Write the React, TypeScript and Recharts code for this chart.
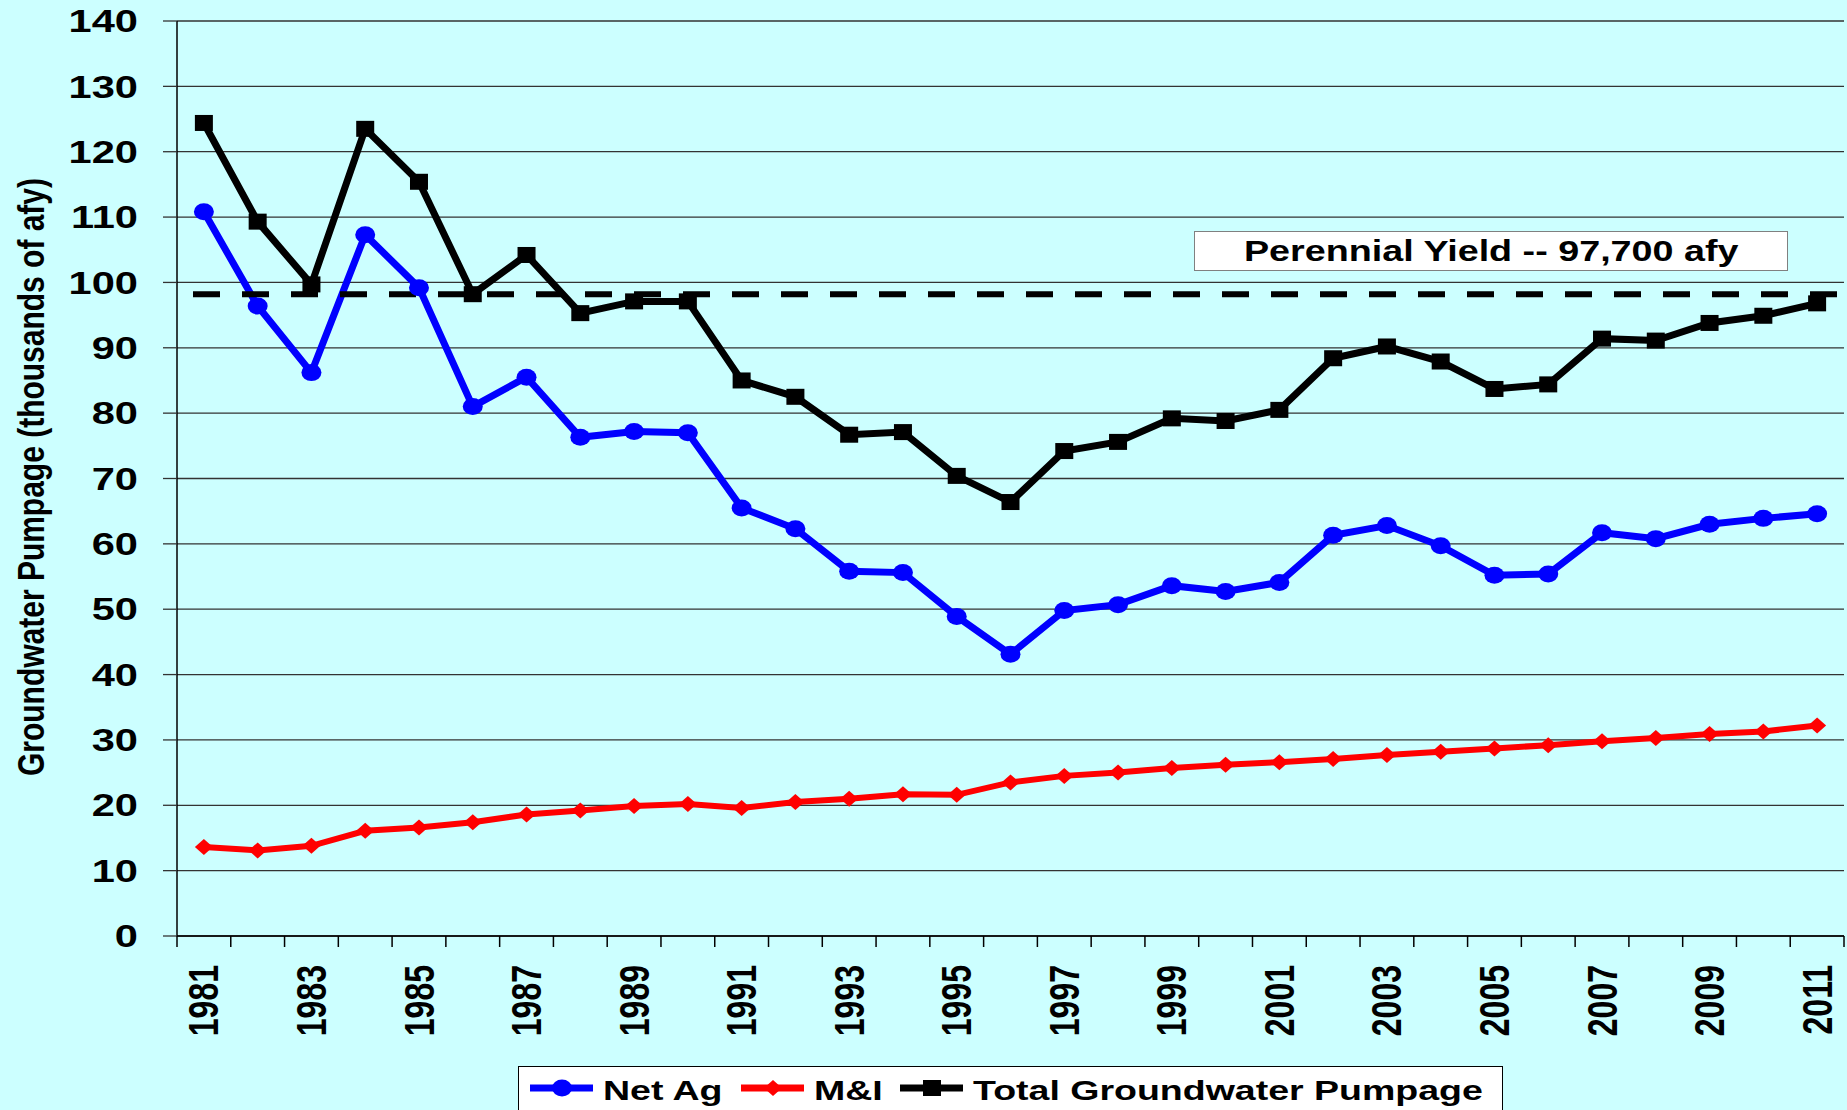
import React from 'react';
import { CartesianGrid, Legend, Line, LineChart, ReferenceLine, XAxis, YAxis } from 'recharts';

const YEARS = [
  '1981', '1982', '1983', '1984', '1985', '1986', '1987', '1988', '1989', '1990',
  '1991', '1992', '1993', '1994', '1995', '1996', '1997', '1998', '1999', '2000',
  '2001', '2002', '2003', '2004', '2005', '2006', '2007', '2008', '2009', '2010', '2011',
];

const NET_AG = [
  110.8, 96.4, 86.2, 107.3, 99.2, 81.0, 85.5, 76.3, 77.2, 77.0,
  65.5, 62.3, 55.8, 55.6, 48.9, 43.1, 49.8, 50.7, 53.6, 52.7,
  54.1, 61.3, 62.8, 59.7, 55.2, 55.4, 61.7, 60.8, 63.0, 63.9, 64.6,
];

const M_AND_I = [
  13.6, 13.1, 13.8, 16.1, 16.6, 17.4, 18.6, 19.2, 19.9, 20.2,
  19.6, 20.5, 21.0, 21.7, 21.6, 23.5, 24.5, 25.0, 25.7, 26.2,
  26.6, 27.1, 27.7, 28.2, 28.7, 29.2, 29.8, 30.3, 30.9, 31.3, 32.2,
];

const TOTAL = [
  124.4, 109.3, 99.7, 123.5, 115.4, 98.2, 104.2, 95.3, 97.1, 97.1,
  85.0, 82.5, 76.7, 77.1, 70.4, 66.4, 74.2, 75.6, 79.2, 78.8,
  80.5, 88.4, 90.2, 87.9, 83.7, 84.4, 91.4, 91.1, 93.8, 94.9, 96.8,
];

const Y_TICKS = [0, 10, 20, 30, 40, 50, 60, 70, 80, 90, 100, 110, 120, 130, 140];
const PERENNIAL_YIELD = 98.2;

const data = YEARS.map((year, i) => ({ year, netAg: NET_AG[i], mi: M_AND_I[i], total: TOTAL[i] }));

const FONT = '"Liberation Sans", Arial, sans-serif';
const STRETCH = 1.3; // the original picture is stretched sideways
const BG = '#CCFFFF';

function ValueTick({ x, y, payload }: any) {
  return (
    <g transform={`translate(${x},${y}) scale(${STRETCH},1)`}>
      <text textAnchor="end" dominantBaseline="central" fontFamily={FONT} fontWeight="bold" fontSize={32} fill="#000">
        {payload.value}
      </text>
    </g>
  );
}

function YearTick({ x, y, payload, index }: any) {
  const half = payload.offset || 1667 / YEARS.length / 2;
  const last = index === YEARS.length - 1;
  return (
    <g>
      <line x1={x - half} x2={x - half} y1={y} y2={y + 11} stroke="#000" strokeWidth={1.5} />
      {last && <line x1={x + half} x2={x + half} y1={y} y2={y + 11} stroke="#000" strokeWidth={1.5} />}
      {index % 2 === 0 && (
        <g transform={`translate(${x},${y + 29}) rotate(-90) scale(1,${STRETCH})`}>
          <text textAnchor="end" dominantBaseline="central" fontFamily={FONT} fontWeight="bold" fontSize={32} fill="#000">
            {payload.value}
          </text>
        </g>
      )}
    </g>
  );
}

function SquareDot({ cx, cy }: any) {
  return <rect x={cx - 9} y={cy - 8} width={18} height={16} fill="#000" />;
}

function CircleDot({ cx, cy }: any) {
  return <ellipse cx={cx} cy={cy} rx={10} ry={8.5} fill="#0000FF" />;
}

function DiamondDot({ cx, cy }: any) {
  return <path d={`M${cx - 9},${cy} L${cx},${cy - 8} L${cx + 9},${cy} L${cx},${cy + 8} Z`} fill="#FF0000" />;
}

function AxisTitle() {
  return (
    <g transform={`translate(31,477) rotate(-90) scale(1,1.25)`}>
      <text textAnchor="middle" dominantBaseline="central" fontFamily={FONT} fontWeight="bold" fontSize={30} fill="#000">
        Groundwater Pumpage (thousands of afy)
      </text>
    </g>
  );
}

const LEGEND_ITEMS = [
  { key: 'netAg', at: 12, Dot: CircleDot },
  { key: 'mi', at: 223, Dot: DiamondDot },
  { key: 'total', at: 382, Dot: SquareDot },
];

function LegendBox({ payload }: any) {
  return (
    <svg width={985} height={50} style={{ display: 'block' }}>
      <rect x={0.5} y={0.5} width={984} height={70} fill="#fff" stroke="#000" strokeWidth={1} />
      {LEGEND_ITEMS.map((item) => {
        const p = (payload || []).find((e: any) => e.dataKey === item.key);
        if (!p) return null;
        const { Dot } = item;
        return (
          <g key={item.key}>
            <line x1={item.at} x2={item.at + 63} y1={22} y2={22} stroke={p.color} strokeWidth={7} />
            <Dot cx={item.at + 32} cy={22} />
            <g transform={`translate(${item.at + 73},34) scale(1.34,1)`}>
              <text fontFamily={FONT} fontWeight="bold" fontSize={28} fill="#000">
                {p.value}
              </text>
            </g>
          </g>
        );
      })}
    </svg>
  );
}

export default function App() {
  return (
    <div style={{ position: 'absolute', left: 0, top: 0, width: 1847, height: 1110, background: BG, overflow: 'hidden' }}>
      <LineChart width={1847} height={1110} data={data} margin={{ top: 21, right: 3, bottom: 0, left: 0 }}>
        <CartesianGrid horizontal vertical={false} stroke="#333" strokeWidth={1.3} />
        <XAxis
          dataKey="year"
          type="category"
          scale="band"
          interval={0}
          height={174}
          tickSize={0}
          tickMargin={0}
          tickLine={false}
          axisLine={{ stroke: '#000', strokeWidth: 1.5 }}
          tick={<YearTick />}
        />
        <YAxis
          domain={[0, 140]}
          ticks={Y_TICKS}
          width={177}
          tickSize={14}
          tickMargin={25}
          tickLine={{ stroke: '#333', strokeWidth: 1.3 }}
          axisLine={{ stroke: '#000', strokeWidth: 1.5 }}
          tick={<ValueTick />}
          label={<AxisTitle />}
        />
        <YAxis
          yAxisId="frame"
          orientation="right"
          domain={[0, 140]}
          width={0}
          tick={false}
          tickLine={false}
          axisLine={{ stroke: '#000', strokeWidth: 1.5 }}
        />
        <Line
          dataKey="netAg"
          name="Net Ag"
          stroke="#0000FF"
          strokeWidth={7}
          dot={<CircleDot />}
          activeDot={false}
          isAnimationActive={false}
        />
        <Line
          dataKey="mi"
          name="M&I"
          stroke="#FF0000"
          strokeWidth={6}
          dot={<DiamondDot />}
          activeDot={false}
          isAnimationActive={false}
        />
        <Line
          dataKey="total"
          name="Total Groundwater Pumpage"
          stroke="#000"
          strokeWidth={7}
          dot={<SquareDot />}
          activeDot={false}
          isAnimationActive={false}
        />
        <ReferenceLine
          y={PERENNIAL_YIELD}
          stroke="#000"
          strokeWidth={6}
          strokeDasharray="27 22"
          strokeDashoffset={33}
        />
        <Legend
          layout="horizontal"
          verticalAlign="middle"
          align="center"
          content={<LegendBox />}
          wrapperStyle={{ position: 'absolute', left: 518, top: 1066, width: 985, height: 50 }}
        />
      </LineChart>
      <div
        style={{
          position: 'absolute',
          left: 1194,
          top: 231,
          width: 594,
          height: 40,
          background: '#fff',
          border: '1px solid #808080',
          boxSizing: 'border-box',
          display: 'flex',
          alignItems: 'center',
          justifyContent: 'center',
        }}
      >
        <span
          style={{
            display: 'inline-block',
            fontFamily: FONT,
            fontWeight: 'bold',
            fontSize: 29,
            color: '#000',
            transform: `scaleX(${STRETCH})`,
            whiteSpace: 'nowrap',
          }}
        >
          Perennial Yield -- 97,700 afy
        </span>
      </div>
    </div>
  );
}
